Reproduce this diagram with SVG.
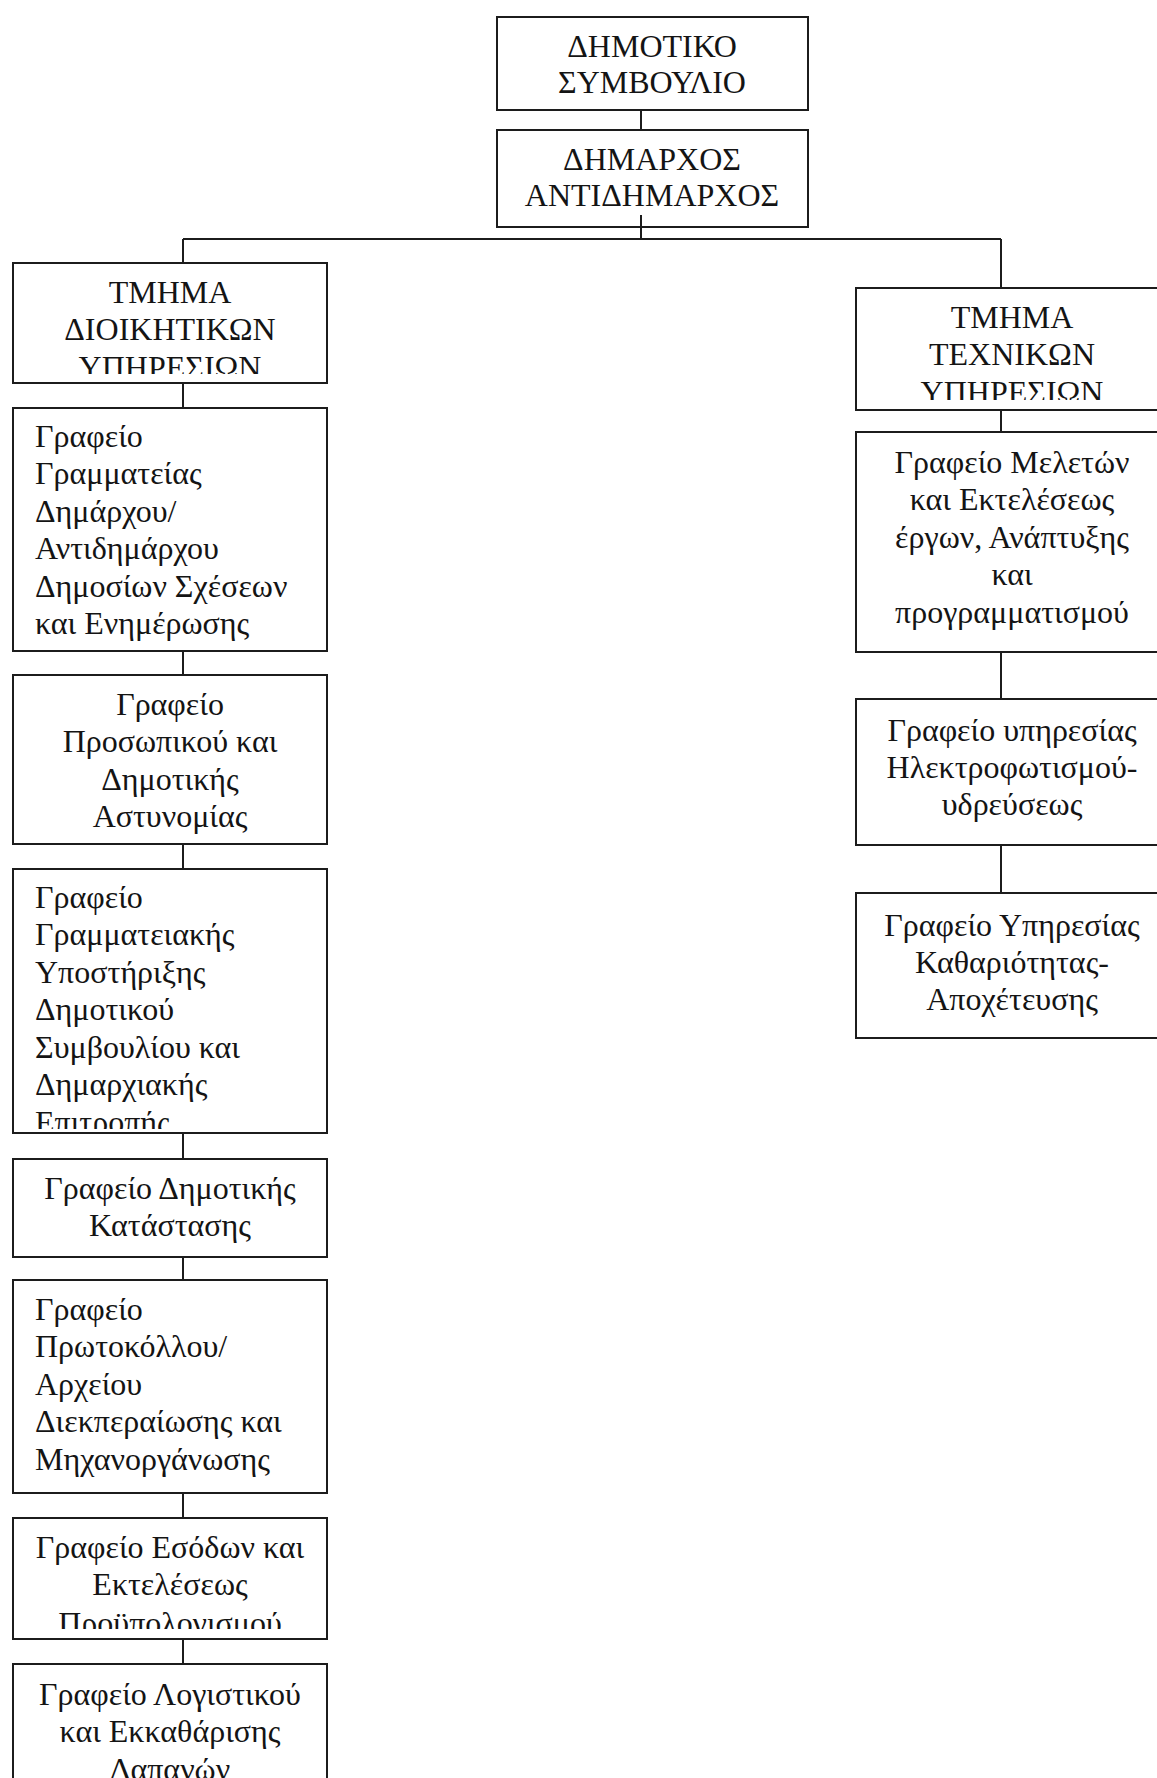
<svg xmlns="http://www.w3.org/2000/svg" width="1157" height="1778" viewBox="0 0 1157 1778">
  <style>
    .box { fill: #ffffff; stroke: #1c1c1c; stroke-width: 2; }
    .link { fill: none; stroke: #1c1c1c; stroke-width: 2; }
    .t { font-family: "Liberation Serif", "Times New Roman", "DejaVu Serif", serif; font-size: 32px; fill: #141414; }
    .c { text-anchor: middle; }
  </style>
  <defs>
    <clipPath id="clipDiok"><rect x="13" y="263" width="314" height="111"/></clipPath>
    <clipPath id="clipTech"><rect x="856" y="288" width="320" height="112"/></clipPath>
    <clipPath id="clipGramDS"><rect x="13" y="869" width="314" height="260"/></clipPath>
    <clipPath id="clipEsod"><rect x="13" y="1518" width="314" height="111"/></clipPath>
  </defs>
  <rect width="1157" height="1778" fill="#ffffff"/>

  <!-- connectors -->
  <g id="connectors">
    <path class="link" d="M641 110 V130"/>
    <path class="link" d="M641 215 V239"/>
    <path class="link" d="M183 239 H1001"/>
    <path class="link" d="M183 239 V263"/>
    <path class="link" d="M1001 239 V288"/>
    <path class="link" d="M183 383 V408"/>
    <path class="link" d="M183 651 V675"/>
    <path class="link" d="M183 844 V869"/>
    <path class="link" d="M183 1133 V1159"/>
    <path class="link" d="M183 1257 V1280"/>
    <path class="link" d="M183 1493 V1518"/>
    <path class="link" d="M183 1639 V1664"/>
    <path class="link" d="M1001 410 V432"/>
    <path class="link" d="M1001 652 V699"/>
    <path class="link" d="M1001 845 V893"/>
  </g>

  <!-- top level -->
  <g id="dimotiko-symvoulio">
    <rect class="box" x="497" y="17" width="311" height="93"/>
    <text class="t c"><tspan x="652" y="57">ΔΗΜΟΤΙΚΟ</tspan><tspan x="652" y="93">ΣΥΜΒΟΥΛΙΟ</tspan></text>
  </g>
  <g id="dimarchos">
    <rect class="box" x="497" y="130" width="311" height="97"/>
    <text class="t c"><tspan x="652" y="170">ΔΗΜΑΡΧΟΣ</tspan><tspan x="652" y="206">ΑΝΤΙΔΗΜΑΡΧΟΣ</tspan></text>
  </g>
  <path class="link" d="M641 215 V227"/>

  <!-- administrative department -->
  <g id="tmima-dioikitikon">
    <rect class="box" x="13" y="263" width="314" height="120"/>
    <text class="t c" clip-path="url(#clipDiok)"><tspan x="170" y="303">ΤΜΗΜΑ</tspan><tspan x="170" y="340.4">ΔΙΟΙΚΗΤΙΚΩΝ</tspan><tspan x="170" y="378">ΥΠΗΡΕΣΙΩΝ</tspan></text>
  </g>
  <g id="grafeio-grammateias">
    <rect class="box" x="13" y="408" width="314" height="243"/>
    <text class="t"><tspan x="35" y="447">Γραφείο</tspan><tspan x="35" y="484.4">Γραμματείας</tspan><tspan x="35" y="521.8">Δημάρχου/</tspan><tspan x="35" y="559.2">Αντιδημάρχου</tspan><tspan x="35" y="596.6">Δημοσίων Σχέσεων</tspan><tspan x="35" y="634">και Ενημέρωσης</tspan></text>
  </g>
  <g id="grafeio-prosopikou">
    <rect class="box" x="13" y="675" width="314" height="169"/>
    <text class="t c"><tspan x="170" y="715">Γραφείο</tspan><tspan x="170" y="752.4">Προσωπικού και</tspan><tspan x="170" y="789.8">Δημοτικής</tspan><tspan x="170" y="827.2">Αστυνομίας</tspan></text>
  </g>
  <g id="grafeio-grammateiakis">
    <rect class="box" x="13" y="869" width="314" height="264"/>
    <text class="t" clip-path="url(#clipGramDS)"><tspan x="35" y="908">Γραφείο</tspan><tspan x="35" y="945.4">Γραμματειακής</tspan><tspan x="35" y="982.8">Υποστήριξης</tspan><tspan x="35" y="1020.2">Δημοτικού</tspan><tspan x="35" y="1057.6">Συμβουλίου και</tspan><tspan x="35" y="1095">Δημαρχιακής</tspan><tspan x="35" y="1133.4">Επιτροπής</tspan></text>
  </g>
  <g id="grafeio-dimotikis-katastasis">
    <rect class="box" x="13" y="1159" width="314" height="98"/>
    <text class="t c"><tspan x="170" y="1199">Γραφείο Δημοτικής</tspan><tspan x="170" y="1236.4">Κατάστασης</tspan></text>
  </g>
  <g id="grafeio-protokollou">
    <rect class="box" x="13" y="1280" width="314" height="213"/>
    <text class="t"><tspan x="35" y="1320">Γραφείο</tspan><tspan x="35" y="1357.4">Πρωτοκόλλου/</tspan><tspan x="35" y="1394.8">Αρχείου</tspan><tspan x="35" y="1432.2">Διεκπεραίωσης και</tspan><tspan x="35" y="1469.6">Μηχανοργάνωσης</tspan></text>
  </g>
  <g id="grafeio-esodon">
    <rect class="box" x="13" y="1518" width="314" height="121"/>
    <text class="t c" clip-path="url(#clipEsod)"><tspan x="170" y="1558">Γραφείο Εσόδων και</tspan><tspan x="170" y="1595.4">Εκτελέσεως</tspan><tspan x="170" y="1633.5">Προϋπολογισμού</tspan></text>
  </g>
  <g id="grafeio-logistikou">
    <rect class="box" x="13" y="1664" width="314" height="130"/>
    <text class="t c"><tspan x="170" y="1705">Γραφείο Λογιστικού</tspan><tspan x="170" y="1742">και Εκκαθάρισης</tspan><tspan x="170" y="1780">Δαπανών</tspan></text>
  </g>

  <!-- technical department -->
  <g id="tmima-technikon">
    <rect class="box" x="856" y="288" width="320" height="122"/>
    <text class="t c" clip-path="url(#clipTech)"><tspan x="1012" y="328">ΤΜΗΜΑ</tspan><tspan x="1012" y="365.4">ΤΕΧΝΙΚΩΝ</tspan><tspan x="1012" y="403">ΥΠΗΡΕΣΙΩΝ</tspan></text>
  </g>
  <g id="grafeio-meleton">
    <rect class="box" x="856" y="432" width="320" height="220"/>
    <text class="t c"><tspan x="1012" y="473">Γραφείο Μελετών</tspan><tspan x="1012" y="510.4">και Εκτελέσεως</tspan><tspan x="1012" y="547.8">έργων, Ανάπτυξης</tspan><tspan x="1012" y="585.2">και</tspan><tspan x="1012" y="622.6">προγραμματισμού</tspan></text>
  </g>
  <g id="grafeio-ilektrofotismou">
    <rect class="box" x="856" y="699" width="320" height="146"/>
    <text class="t c"><tspan x="1012" y="741">Γραφείο υπηρεσίας</tspan><tspan x="1012" y="778">Ηλεκτροφωτισμού-</tspan><tspan x="1012" y="815">υδρεύσεως</tspan></text>
  </g>
  <g id="grafeio-kathariotitas">
    <rect class="box" x="856" y="893" width="320" height="145"/>
    <text class="t c"><tspan x="1012" y="936">Γραφείο Υπηρεσίας</tspan><tspan x="1012" y="973">Καθαριότητας-</tspan><tspan x="1012" y="1010">Αποχέτευσης</tspan></text>
  </g>
</svg>
